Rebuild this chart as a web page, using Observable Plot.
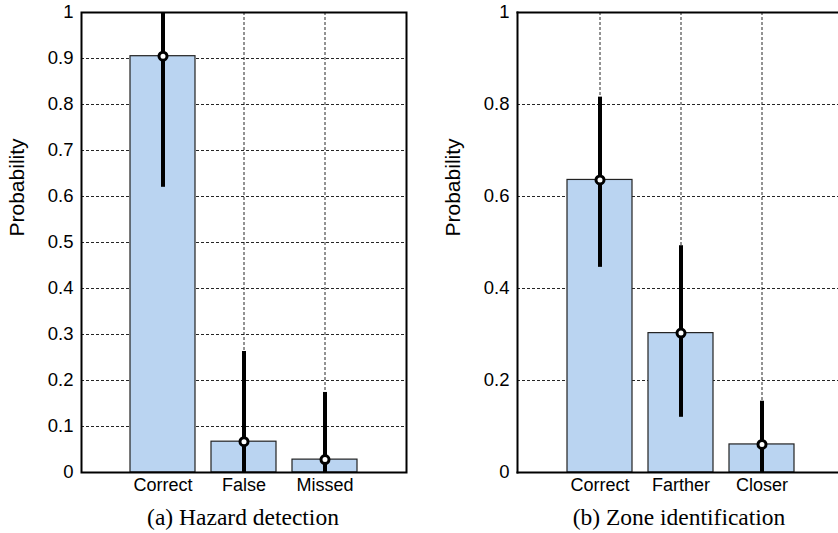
<!DOCTYPE html>
<html>
<head>
<meta charset="utf-8">
<script src="https://cdn.jsdelivr.net/npm/d3@7"></script>
<script src="https://cdn.jsdelivr.net/npm/@observablehq/plot@0.6"></script>
<style>
  html, body { margin: 0; padding: 0; background: #fff; }
  body { width: 838px; height: 533px; overflow: hidden; position: relative; }
  .panel { position: absolute; top: 0; }
  .panel svg { max-width: none !important; display: block; }
  .caption { position: absolute; font-family: "Liberation Serif", "Times New Roman", serif; font-size: 23.5px; color: #000; white-space: nowrap; transform: translate(-50%, -50%); }
</style>
</head>
<body>
<div id="a" class="panel" style="left:0px; width:418px"></div>
<div id="b" class="panel" style="left:418px; width:460px"></div>
<div class="caption" style="left:243px; top:517px">(a) Hazard detection</div>
<div class="caption" style="left:679px; top:517px">(b) Zone identification</div>
<script>
// Panel (a) Hazard detection
const catsA = ["Correct", "False", "Missed"];
const valA = [0.905, 0.067, 0.028];
const loA = [0.62, 0, 0];
const hiA = [1.0, 0.263, 0.174];
const yTicksA = [0, 0.1, 0.2, 0.3, 0.4, 0.5, 0.6, 0.7, 0.8, 0.9, 1];

// Panel (b) Zone identification
const catsB = ["Correct", "Farther", "Closer"];
const valB = [0.636, 0.303, 0.061];
const loB = [0.446, 0.12, 0];
const hiB = [0.816, 0.493, 0.155];
const yTicksB = [0, 0.2, 0.4, 0.6, 0.8, 1];

const yLabel = "Probability";

function panel(cats, vals, lo, hi, yTicks, width, marginLeft, marginRight, frameMarks) {
  const data = cats.map((c, i) => ({cat: c, v: vals[i], lo: lo[i], hi: hi[i]}));
  const fmt = d3.format("~g");
  return Plot.plot({
    width: width,
    height: 533,
    marginLeft: marginLeft,
    marginRight: marginRight,
    marginTop: 12,
    marginBottom: 61,
    style: {fontFamily: "'Liberation Sans', Arial, sans-serif", fontSize: "18px", color: "#000", background: "transparent", overflow: "visible", maxWidth: "none"},
    x: {type: "band", domain: cats, paddingInner: 0.2, paddingOuter: 0.6},
    y: {domain: [0, 1]},
    marks: [
      Plot.gridX(cats, {stroke: "#000", strokeOpacity: 0.85, strokeWidth: 1, strokeDasharray: "3,2"}),
      Plot.gridY(yTicks, {stroke: "#000", strokeOpacity: 0.85, strokeWidth: 1, strokeDasharray: "3,2"}),
      Plot.barY(data, {x: "cat", y: "v", fill: "#bad4f1", stroke: "#222", strokeWidth: 1.2}),
      Plot.ruleX(data, {x: "cat", y1: "lo", y2: "hi", stroke: "#000", strokeWidth: 4}),
      Plot.dot(data, {x: "cat", y: "v", r: 4, fill: "#fff", stroke: "#000", strokeWidth: 3}),
      ...frameMarks,
      Plot.axisY(yTicks, {tickFormat: fmt, tickSize: 0, tickPadding: 8, fontSize: 18.5, label: null}),
      Plot.text([yLabel], {frameAnchor: "left", rotate: -90, dx: -64, dy: -6, fontSize: 21, fill: "#000"}),
      Plot.axisX({tickSize: 0, tickPadding: 6, fontSize: 18, label: null})
    ]
  });
}

const fullFrame = [Plot.frame({stroke: "#000", strokeWidth: 2})];
const openFrame = [
  Plot.frame({anchor: "left", stroke: "#000", strokeWidth: 2}),
  Plot.frame({anchor: "top", stroke: "#000", strokeWidth: 2}),
  Plot.frame({anchor: "bottom", stroke: "#000", strokeWidth: 2})
];

document.getElementById("a").append(panel(catsA, valA, loA, hiA, yTicksA, 418, 81, 12, fullFrame));
document.getElementById("b").append(panel(catsB, valB, loB, hiB, yTicksB, 460, 99, 35, openFrame));
</script>
</body>
</html>
